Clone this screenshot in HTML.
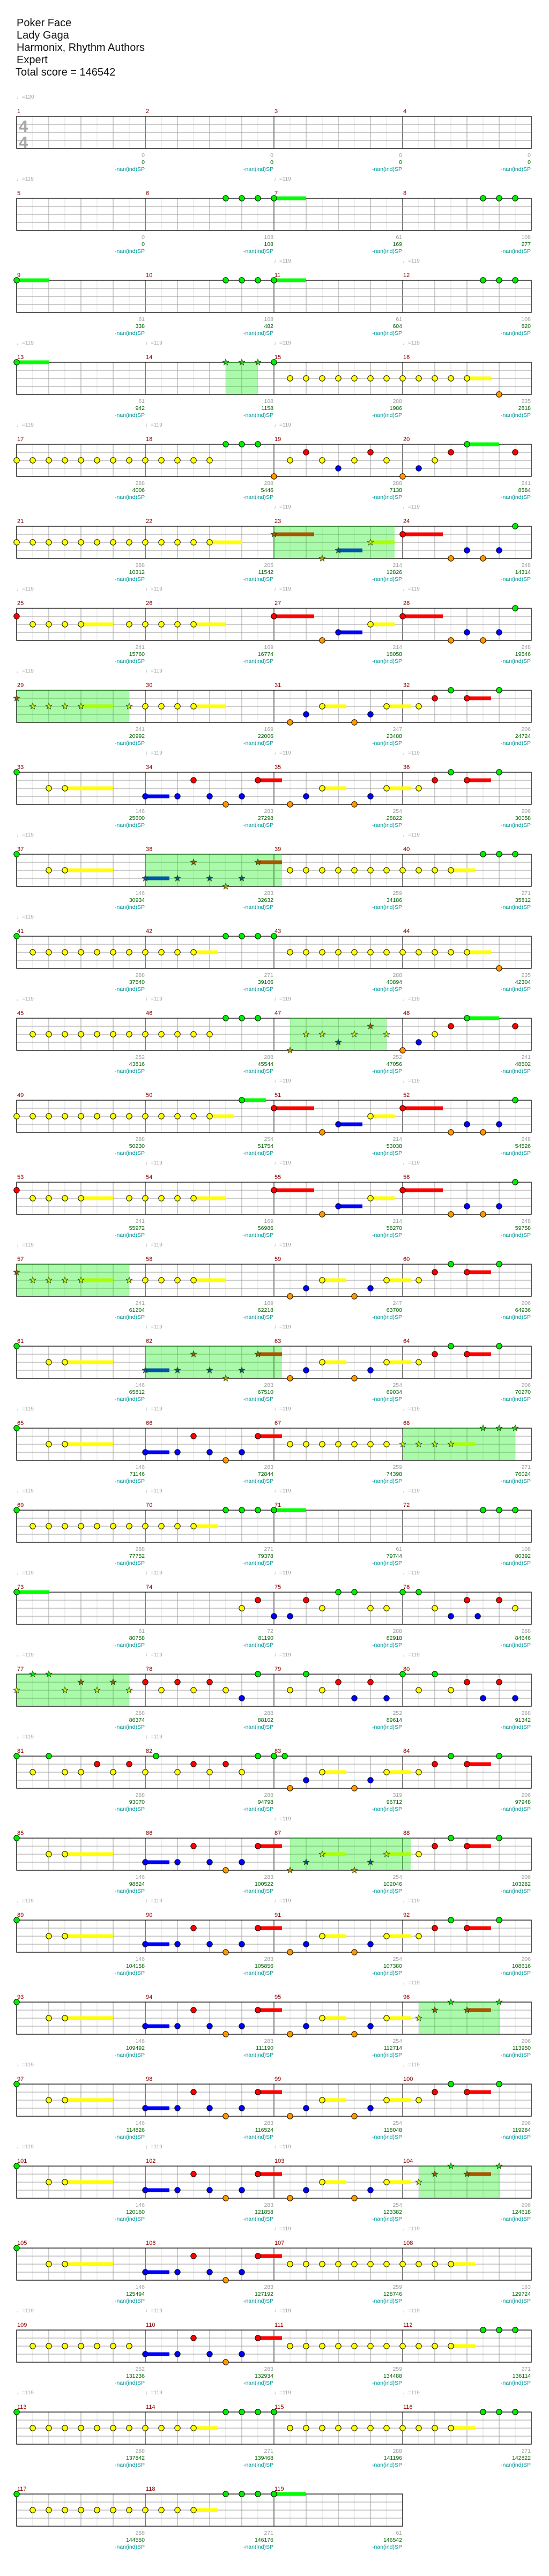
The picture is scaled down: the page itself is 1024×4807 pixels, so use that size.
<!DOCTYPE html>
<html><head><meta charset="utf-8">
<style>
html,body{margin:0;padding:0;background:#fff;}
svg{display:block;}
text{font-family:"Liberation Sans","DejaVu Sans",sans-serif;}
</style></head>
<body>
<svg id="s" xmlns="http://www.w3.org/2000/svg" width="1024" height="4807" viewBox="0 0 1024 4807">
<rect width="1024" height="4807" fill="#fff"/>
<text x="31" y="49" font-size="20" fill="#111">Poker Face</text>
<text x="31" y="72" font-size="20" fill="#111">Lady Gaga</text>
<text x="31" y="95" font-size="20" fill="#111">Harmonix, Rhythm Authors</text>
<text x="31" y="118" font-size="20" fill="#111">Expert</text>
<text x="29" y="141" font-size="20" fill="#111">Total score = 146542</text>
</svg>
<script>
(function(){
var svg=document.getElementById('s');
var out=[];
var COL={g:'#00ee00',r:'#ff0000',y:'#ffff00',b:'#0000ff',o:'#ff9900'};
var SUS={g:'#00ff00',r:'#ff0000',y:'#ffff00',b:'#0000ff',o:'#ff9900'};
var SSUS={g:'#00ff00',r:'#aa5500',y:'#aaff00',b:'#0055aa',o:'#cc9900'};
var SCOL={g:'#00ee00',r:'#aa5500',y:'#ccee00',b:'#0055aa',o:'#cc9900'};
var LANE={g:0,r:1,y:2,b:3,o:4};
var M34="b8/1.5 b10 r11 b12 o13 b14 r15/1.5";
var M34S="b8*/1.5 b10* r11* b12* o13* b14* r15*/1.5";
var P27="r16/2.5 o19 b20/1.5 y22/1.5 r24/2.5 o27 b28 o29 b30 g31";
var Q="o17 b18 y19/1.5 o21 b22 y23/1.5 y25 r26 g27 r28/1.5 g30";
var QS="o17 b18 y19/1.5 o21 b22 y23/1.5 y25* r26* g27* r28*/1.5 g30*";
var R7="r0 y1-4/2 y7-11/2 "+P27;
var R8="r0* y1-4*/2 y7* y8-11/2 "+Q;
var rows=[
 {n:"",sp:null,t:[0],sc:[[0,0],[0,0],[0,0],[0,0]]},
 {n:"g13 g14 g15 g16/2 g29 g30 g31",t:[0,2],sc:[[0,0],[108,108],[61,169],[108,277]]},
 {n:"g0/2 g13 g14 g15 g16/2 g29 g30 g31",t:[2,3],sc:[[61,338],[108,482],[61,604],[108,820]]},
 {n:"g0/2 g13-15* g16 y17-28/1.5 o30",sp:[13,15],t:[0,1,2,3],sc:[[61,942],[108,1158],[288,1986],[235,2818]]},
 {n:"y0-12 g13-15 o16 y17 r18 y19 b20 y21 r22 y23 o24 b25 y26 r27 g28/2 r31",t:[0,1,2],sc:[[288,4006],[288,5446],[288,7138],[241,8584]]},
 {n:"y0-12/2 r16*/2.5 o19* b20*/1.5 y22*/1.5 r24/2.5 o27 b28 o29 b30 g31",sp:[16,23.5],t:[2,3],sc:[[288,10312],[205,11542],[214,12826],[248,14314]]},
 {n:R7,t:[0,1,2,3],sc:[[241,15760],[169,16774],[214,18058],[248,19546]]},
 {n:R8,sp:[0,7],t:[0,1],sc:[[241,20992],[169,22006],[247,23488],[206,24724]]},
 {n:"g0 y2 y3/3 "+M34+" "+Q,t:[1,2,3],sc:[[146,25600],[283,27298],[254,28822],[206,30058]]},
 {n:"g0 y2 y3/3 "+M34S+" y17-27/1.5 g29-31",sp:[8,16.5],t:[0,3],sc:[[146,30934],[283,32632],[259,34186],[271,35812]]},
 {n:"g0 y1-11/1.5 g13-16 y17-28/1.5 o30",t:[0],sc:[[288,37540],[271,39166],[288,40894],[235,42304]]},
 {n:"y1-12 g13-15 o17* y18* y19* b20* y21* r22* y23* o24 b25 y26 r27 g28/2 r31",sp:[17,23],t:[0,1,2,3],sc:[[252,43816],[288,45544],[252,47056],[241,48502]]},
 {n:"y0-12/1.5 g14/1.5 "+P27,t:[2,3],sc:[[288,50230],[254,51754],[214,53038],[248,54526]]},
 {n:R7,t:[1,2,3],sc:[[241,55972],[169,56986],[214,58270],[248,59758]]},
 {n:R8,sp:[0,7],t:[0,1,2],sc:[[241,61204],[169,62218],[247,63700],[206,64936]]},
 {n:"g0 y2 y3/3 "+M34S+" "+Q,sp:[8,16.5],t:[1,2],sc:[[146,65812],[283,67510],[254,69034],[206,70270]]},
 {n:"g0 y2 y3/3 "+M34+" y17-23 y24-27*/1.5 g29-31*",sp:[24,31],t:[0,1,2,3],sc:[[146,71146],[283,72844],[259,74398],[271,76024]]},
 {n:"g0 y1-11/1.5 g13-15 g16/2 g29-31",t:[0,1,2,3],sc:[[288,77752],[271,79378],[61,79744],[108,80392]]},
 {n:"g0/2 y14 r15 b16 b17 r18 y19 g20 g21 y22 y23 g24 g25 y26 b27 r28 b28.67 r30 y31",t:[0,1,2,3],sc:[[61,80758],[72,81190],[288,82918],[288,84646]]},
 {n:"y0* g1* g2* y3* r4* y5* r6* y7* r8 y9 r10 y11 r12 y13 b14 g15 y17 g18 y19 r20 b21 r22 b23 g24 y25 g26 y27 r28 b29 r30 b31",sp:[0,7],t:[0,1,2,3],sc:[[288,86374],[288,88102],[252,89614],[288,91342]]},
 {n:"g0 y1 g2 y3 y4 r5 y6 r7 y8 g8.67 y10 r11 y12 r13 y14 g15 g16 g16.67 "+Q,t:[0,1],sc:[[288,93070],[288,94798],[319,96712],[206,97948]]},
 {n:"g0 y2 y3/3 "+M34+" o17* b18* y19*/1.5 o21* b22* y23*/1.5 y25 r26 g27 r28/1.5 g30",sp:[17,24.5],t:[2],sc:[[146,98824],[283,100522],[254,102046],[206,103282]]},
 {n:"g0 y2 y3/3 "+M34+" "+Q,t:[0,1,2,3],sc:[[146,104158],[283,105856],[254,107380],[206,108616]]},
 {n:"g0 y2 y3/3 "+M34+" "+QS,sp:[25,30],t:[3],sc:[[146,109492],[283,111190],[254,112714],[206,113950]]},
 {n:"g0 y2 y3/3 "+M34+" "+Q,t:[0,3],sc:[[146,114826],[283,116524],[254,118048],[206,119284]]},
 {n:"g0 y2 y3/3 "+M34+" "+QS,sp:[25,30],t:[0,1,2],sc:[[146,120160],[283,121858],[254,123382],[206,124618]]},
 {n:"g0 y2 y3/3 "+M34+" y17-27/1.5",t:[2,3],sc:[[146,125494],[283,127192],[259,128746],[163,129724]]},
 {n:"y1-7 "+M34+" y17-27/1.5 g29-31",t:[0,1,2,3],sc:[[252,131236],[283,132934],[259,134488],[271,136114]]},
 {n:"g0 y1-11/1.5 g13-16 y17-27/1.5 g29-31",t:[0,1,2,3],sc:[[288,137842],[271,139468],[288,141196],[271,142822]]},
 {n:"g0 y1-11/1.5 g13-15 g16/2",t:[],m:3,sc:[[288,144550],[271,146176],[61,146542]]}
];
function star(cx,cy,r,fill){
  var p=[];for(var i=0;i<10;i++){var a=-Math.PI/2+i*Math.PI/5;var rr=i%2?r*0.42:r;p.push((cx+rr*Math.cos(a)).toFixed(1)+','+(cy+rr*Math.sin(a)).toFixed(1));}
  return '<polygon points="'+p.join(' ')+'" fill="'+fill+'" stroke="#224400" stroke-width="0.8"/>';
}
var X0=31,MW=240,E=30;
rows.forEach(function(row,ri){
  var T=217+153*ri, B=T+60, nm=row.m||4, W=nm*MW;
  // tempo
  row.t.forEach(function(k){
    var x=X0+k*MW;
    out.push('<text x="'+x+'" y="'+(T-33)+'" font-size="10" fill="#a0a0a0">\u2669'+(ri==0?'=120':'=119')+'</text>');
  });
  // measure numbers
  for(var k=0;k<nm;k++){
    out.push('<text x="'+(X0+k*MW+1)+'" y="'+(T-6)+'" font-size="11" fill="#8b0000">'+(ri*4+k+1)+'</text>');
  }
  // grid vertical
  for(var i=1;i<nm*8;i++){
    var x=X0+i*E;
    var c=(i%8==0)?'#000':(i%2==0?'#999':'#ddd');
    out.push('<line x1="'+x+'" y1="'+T+'" x2="'+x+'" y2="'+B+'" stroke="'+c+'" stroke-width="1"/>');
  }
  for(var j=1;j<4;j++){
    out.push('<line x1="'+X0+'" y1="'+(T+15*j)+'" x2="'+(X0+W)+'" y2="'+(T+15*j)+'" stroke="#999" stroke-width="1"/>');
  }
  out.push('<rect x="'+X0+'" y="'+T+'" width="'+W+'" height="60" fill="none" stroke="#000" stroke-width="1.3"/>');
  if(ri==0){
    out.push('<text x="35" y="246" font-size="31" font-weight="bold" fill="#a8a8a8">4</text>');
    out.push('<text x="35" y="276" font-size="31" font-weight="bold" fill="#a8a8a8">4</text>');
  }
  // SP region
  if(row.sp){
    out.push('<rect x="'+(X0+row.sp[0]*E)+'" y="'+T+'" width="'+((row.sp[1]-row.sp[0])*E)+'" height="60" fill="rgb(0,240,0)" fill-opacity="0.33"/>');
  }
  // notes
  var toks=row.n.trim()?row.n.trim().split(/\s+/):[];
  var notes=[];
  toks.forEach(function(t){
    var m=t.match(/^([gryob])([\d.]+)(?:-([\d.]+))?(\*)?(?:\/([\d.]+))?$/);
    if(!m)return;
    var a=parseFloat(m[2]),b=m[3]?parseFloat(m[3]):a;
    for(var p=a;p<=b+0.001;p++){
      notes.push({l:m[1],p:p,s:!!m[4],sus:(p+1>b+0.001&&m[5])?parseFloat(m[5]):0});
    }
  });
  notes.forEach(function(n){
    if(n.sus){
      var x=X0+n.p*E,y=T+LANE[n.l]*15;
      out.push('<rect x="'+x+'" y="'+(y-3.5)+'" width="'+(n.sus*E)+'" height="7" fill="'+(n.s?SSUS[n.l]:SUS[n.l])+'"/>');
    }
  });
  notes.forEach(function(n){
    var x=X0+n.p*E,y=T+LANE[n.l]*15;
    if(n.s) out.push(star(x,y,6,SCOL[n.l]));
    else out.push('<circle cx="'+x+'" cy="'+y+'" r="5.2" fill="'+COL[n.l]+'" stroke="#000" stroke-width="1"/>');
  });
  // scores
  row.sc.forEach(function(s,k){
    var x=X0+(k+1)*MW-1;
    out.push('<text x="'+x+'" y="'+(B+16)+'" font-size="10.5" fill="#a0a0a0" text-anchor="end">'+s[0]+'</text>');
    out.push('<text x="'+x+'" y="'+(B+29)+'" font-size="10.5" fill="#006400" text-anchor="end">'+s[1]+'</text>');
    out.push('<text x="'+x+'" y="'+(B+42)+'" font-size="10.5" fill="#009999" text-anchor="end">-nan(ind)SP</text>');
  });
});
svg.insertAdjacentHTML('beforeend',out.join(''));
})();
</script>
</body></html>
